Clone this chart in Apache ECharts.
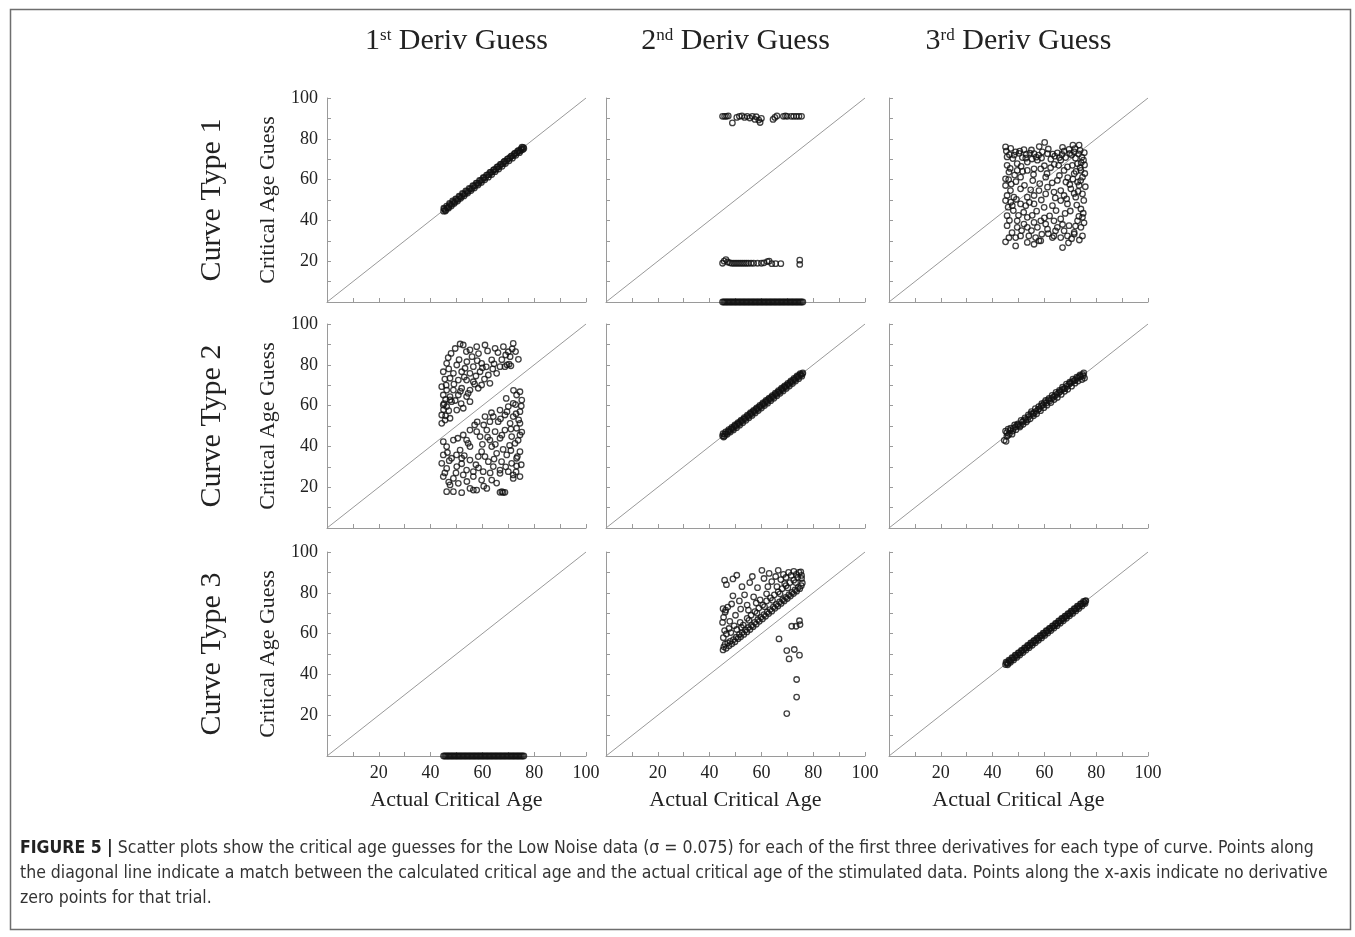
<!DOCTYPE html>
<html>
<head>
<meta charset="utf-8">
<script src="https://cdn.jsdelivr.net/npm/echarts@6/dist/echarts.min.js"></script>
<style>
  html, body { margin: 0; padding: 0; background: #fff; }
  #chart { width: 1355px; height: 937px; }
</style>
</head>
<body>
<div id="chart"></div>
<script>
// titles
var colTitles = [['1', 'st'], ['2', 'nd'], ['3', 'rd']];
var rowTitles = ['Curve Type 1', 'Curve Type 2', 'Curve Type 3'];
var xName = 'Actual Critical Age';
var yName = 'Critical Age Guess';
var caption = [
  ['FIGURE 5 |', ' Scatter plots show the critical age guesses for the Low Noise data (\u03c3 = 0.075) for each of the first three derivatives for each type of curve. Points along'],
  ['', 'the diagonal line indicate a match between the calculated critical age and the actual critical age of the stimulated data. Points along the x-axis indicate no derivative'],
  ['', 'zero points for that trial.']
];

// curve type 1
var c1d1 = [[45.0,44.5],[45.3,45.6],[45.8,45.0],[46.4,46.2],[47.0,46.6],[47.5,47.8],[48.2,47.9],[48.8,49.1],[49.4,49.0],[50.0,50.3],
  [50.7,50.4],[51.3,51.6],[52.0,51.7],[52.6,52.9],[53.3,53.0],[54.0,54.2],[54.6,54.3],[55.3,55.5],[56.0,55.6],[56.6,56.8],
  [57.3,57.1],[58.0,58.3],[58.6,58.2],[59.3,59.5],[60.0,59.8],[60.6,61.0],[61.3,61.0],[62.0,62.3],[62.6,62.4],[63.3,63.6],
  [64.0,63.8],[64.6,64.9],[65.3,65.0],[66.0,66.3],[66.6,66.4],[67.3,67.6],[68.0,67.8],[68.6,69.0],[69.3,69.1],[70.0,70.3],
  [70.6,70.5],[71.3,71.6],[72.0,71.8],[72.6,73.0],[73.3,73.1],[74.0,74.3],[74.5,74.0],[75.0,75.2],[75.6,74.8],[75.8,75.8],
  [45.1,46.0],[45.7,44.6],[46.2,47.0],[46.9,46.0],[47.3,48.3],[48.0,47.1],[48.5,49.6],[49.1,48.3],[49.7,50.6],[50.4,49.5],
  [51.0,51.9],[51.6,50.8],[52.3,53.2],[52.9,52.0],[53.6,54.5],[54.3,53.4],[54.9,55.7],[55.6,54.6],[56.3,57.0],[56.9,55.9],
  [57.6,58.3],[58.3,57.3],[58.9,59.6],[59.6,58.6],[60.3,60.9],[60.9,59.9],[61.6,62.2],[62.3,61.2],[62.9,63.5],[63.6,62.5],
  [64.3,64.8],[64.9,63.9],[65.6,66.1],[66.3,65.2],[66.9,67.4],[67.6,66.5],[68.3,68.7],[68.9,67.9],[69.6,70.0],[70.3,69.2],
  [70.9,71.3],[71.6,70.5],[72.3,72.6],[72.9,71.9],[73.6,73.9],[74.3,73.2],[75.0,74.4],[75.3,75.9],[76.0,75.3]];

var c1d2 = [[45.0,91.0],[45.8,91.0],[46.5,91.0],[47.2,91.2],[48.8,87.8],[50.5,90.5],[51.5,91.0],[52.5,91.2],[53.5,90.5],[54.5,91.0],
  [55.5,90.2],[56.5,91.0],[57.5,89.5],[58.0,90.8],[59.0,89.2],[59.5,88.0],[60.0,90.0],[64.5,89.5],[65.2,90.5],[66.0,91.2],
  [68.5,91.0],[69.3,91.2],[70.0,91.0],[71.5,91.0],[72.5,91.0],[73.5,91.0],[74.5,91.0],[75.5,91.0],
  [45.0,19.0],[45.6,20.0],[46.3,20.8],[47.0,19.6],[47.8,19.2],[48.6,19.0],[49.4,19.0],[50.2,19.0],[51.0,19.0],[51.8,19.0],
  [52.6,19.0],[53.4,19.0],[54.2,19.0],[55.0,19.0],[56.0,19.0],[57.0,19.0],[58.5,19.0],[60.0,19.0],[61.0,19.2],[62.3,19.8],
  [63.0,20.0],[64.0,18.8],[65.5,18.8],[67.5,18.8],[74.8,20.5],[74.8,18.4],
  [45,0],[45.5,0],[46,0],[46.5,0],[47,0],[47.5,0],[48,0],[48.5,0],[49,0],[49.5,0],[50,0],[50.5,0],[51,0],[51.5,0],
  [52,0],[52.5,0],[53,0],[53.5,0],[54,0],[54.5,0],[55,0],[55.5,0],[56,0],[56.5,0],[57,0],[57.5,0],[58,0],[58.5,0],
  [59,0],[59.5,0],[60,0],[60.5,0],[61,0],[61.5,0],[62,0],[62.5,0],[63,0],[63.5,0],[64,0],[64.5,0],[65,0],[65.5,0],
  [66,0],[66.5,0],[67,0],[67.5,0],[68,0],[68.5,0],[69,0],[69.5,0],[70,0],[70.5,0],[71,0],[71.5,0],[72,0],[72.5,0],
  [73,0],[73.5,0],[74,0],[74.5,0],[75,0],[75.5,0],[76,0]];

var c1d3 = [[45.0,76.0],[60.1,78.2],[71.0,76.9],[73.4,76.9],[67.6,73.9],[52.1,74.7],[48.9,73.6],[45.6,71.1],[56.0,72.7],[59.2,73.6],
  [61.2,72.7],[65.0,73.1],[71.5,73.6],[75.1,69.5],[72.8,67.8],[45.6,67.0],[49.5,67.8],[53.4,68.6],[57.3,69.5],[66.3,69.5],
  [68.9,66.2],[74.1,64.5],[46.3,63.7],[49.5,64.5],[53.4,64.5],[56.0,65.3],[58.6,65.3],[62.4,65.8],[67.6,64.5],[71.5,62.9],
  [74.7,61.2],[45.0,60.4],[50.8,61.2],[60.5,61.2],[65.0,59.6],[68.3,58.8],[73.4,57.1],[45.0,57.1],[46.9,54.6],[50.8,55.5],
  [54.7,55.0],[57.9,54.6],[61.2,56.3],[66.3,54.6],[70.2,55.5],[45.6,52.2],[48.2,51.4],[53.4,51.4],[56.0,52.2],[60.5,53.0],
  [63.7,53.9],[67.6,52.2],[72.1,51.4],[74.7,53.0],[45.0,49.7],[47.6,47.2],[50.8,48.1],[52.8,47.2],[56.0,48.1],[59.9,46.4],
  [63.1,47.2],[66.3,49.7],[68.9,48.1],[74.1,45.6],[45.6,42.3],[49.5,39.8],[52.1,38.2],[53.4,41.5],[56.0,39.0],[58.6,39.8],
  [60.5,38.2],[63.7,39.8],[66.3,40.7],[69.5,37.4],[72.8,39.8],[74.7,41.5],[45.6,37.4],[49.5,36.6],[53.4,36.6],[57.3,36.6],
  [61.2,35.7],[65.0,36.6],[67.6,34.9],[71.5,34.1],[74.1,36.6],[48.9,31.6],[50.8,32.4],[54.0,32.4],[56.6,31.6],[58.6,30.0],
  [63.1,31.6],[66.3,31.6],[68.9,32.4],[71.5,33.3],[74.7,32.4],[45.0,29.5],[48.9,27.5],[53.4,29.2],[56.0,28.3],[57.9,30.0],
  [67.0,26.7],[63.7,32.4],
  [46.5,72.2],[47.8,70.3],[50.2,72.9],[51.5,70.8],[53.0,72.3],[54.4,73.0],[55.2,70.1],[57.8,72.0],[58.9,70.6],[62.5,70.0],
  [64.0,71.5],[66.8,72.3],[68.2,70.8],[69.5,74.8],[70.5,72.0],[72.0,70.5],[73.2,72.6],[74.5,71.0],[75.5,67.2],[73.8,65.8],
  [72.2,64.0],[75.6,63.0],[74.0,59.5],[71.0,60.2],[69.8,57.6],[73.0,54.2],[75.2,49.8],[72.5,47.5],[70.0,44.6],[75.0,43.5],
  [73.3,42.0],[68.0,43.4],[64.5,44.8],[62.0,42.2],[57.0,44.5],[52.0,44.0],[48.0,44.8],[46.0,46.5],[47.2,57.8],[49.0,59.0],
  [52.3,57.2],[55.5,59.5],[58.2,58.0],[63.0,58.4],[65.8,62.0],[60.0,66.8],[63.8,67.5],[46.8,65.5],[48.5,62.2],[51.6,64.0],
  [47.0,49.0],[50.0,42.5],[61.5,33.5],[64.3,34.9],[70.5,31.0],[73.5,30.4],[59.0,33.2],[55.0,35.0],[47.5,34.0],[46.3,31.5],
  [45.3,74.0],[47.0,75.3],[48.3,72.0],[50.5,74.0],[52.8,70.5],[55.0,74.5],[56.8,71.0],[58.0,76.2],[61.5,75.0],[63.2,72.5],
  [65.8,70.8],[67.0,75.8],[69.8,72.8],[71.8,75.2],[73.8,74.3],[75.4,73.2],[74.2,68.3],[70.8,67.0],[65.5,67.0],[61.0,63.0],
  [55.8,62.5],[51.0,66.5],[46.2,60.0],[69.0,61.0],[72.8,58.8],[75.8,56.5],[71.5,53.2],[68.6,50.6],[64.2,51.0],[58.8,50.0],
  [54.2,48.8],[49.2,50.3],[46.5,40.0],[51.2,35.0],[55.3,42.5],[60.0,41.2],[67.0,38.0],[72.0,37.2],[75.3,38.8],[69.3,29.0]];

// curve type 2
var c2d1 = [[47.9,85.6],[51.4,90.2],[52.6,89.7],[55.2,87.3],[57.8,88.9],[61.0,89.7],[64.9,88.1],[68.1,88.9],[70.0,86.4],[71.9,90.5],
  [70.7,84.0],[73.9,82.7],[46.2,80.7],[50.1,79.9],[53.3,78.3],[56.5,79.1],[59.7,80.7],[63.6,82.4],[66.8,79.1],[68.7,79.1],
  [48.8,75.8],[52.0,76.6],[55.2,75.8],[59.1,76.6],[62.3,75.0],[65.5,75.8],[44.9,76.6],[47.5,73.4],[50.7,72.5],[53.9,72.5],
  [56.5,71.7],[59.7,70.1],[62.9,70.9],[44.3,69.3],[46.2,67.6],[48.8,67.6],[52.0,68.5],[55.2,67.6],[58.4,68.5],[44.9,65.2],
  [47.5,64.4],[50.7,65.2],[53.9,64.4],[44.9,60.3],[46.2,59.5],[48.1,61.9],[50.1,57.8],[52.6,58.7],[55.2,61.9],[44.3,55.4],
  [45.6,52.9],[47.5,53.8],[44.3,51.3],
  [45.2,61.0],[45.8,63.0],[47.0,57.5],[49.5,62.5],[51.8,61.0],[54.5,66.0],[57.0,70.5],[60.8,73.0],[64.0,78.0],[67.5,82.5],
  [69.5,80.0],[72.8,86.5],[70.3,80.3],[71.0,79.5],
  [46.8,83.5],[49.5,88.0],[53.8,86.5],[56.0,84.0],[58.5,85.5],[62.0,86.8],[66.0,86.0],[69.0,84.8],[71.5,87.8],[47.0,78.0],
  [51.0,82.5],[54.0,81.5],[58.0,82.0],[61.5,79.0],[64.5,80.5],[45.5,73.0],[49.0,70.5],[53.0,74.0],[57.5,74.5],[60.0,78.5],
  [46.0,70.0],[51.5,67.0],[47.5,62.8],[45.0,58.0],[45.8,55.0],
  [74.5,66.8],[73.2,65.2],[75.2,62.7],[71.9,61.1],[70.0,59.5],[74.5,57.0],[66.8,57.8],[68.7,55.4],[71.9,54.6],[64.2,54.6],
  [61.0,54.6],[62.9,52.1],[66.1,52.1],[70.7,51.3],[74.5,51.3],[73.2,48.9],[55.2,48.0],[57.8,47.2],[61.7,48.0],[64.9,47.2],
  [68.7,48.0],[52.6,45.6],[53.9,43.1],[59.1,44.8],[62.9,43.1],[66.8,44.0],[71.3,44.8],[74.5,45.6],[72.6,41.5],[44.9,42.3],
  [48.8,43.1],[46.2,39.9],[51.4,38.2],[55.2,39.9],[59.7,37.4],[63.6,39.9],[65.5,36.6],[69.4,35.8],[74.5,37.4],[73.2,34.2],
  [44.9,35.8],[48.1,34.2],[52.0,34.2],[55.2,33.3],[58.4,35.0],[62.3,32.5],[67.4,32.5],[71.3,31.7],[73.2,30.4],[44.3,31.7],
  [46.2,29.2],[50.1,30.1],[53.9,28.4],[56.5,27.6],[60.3,27.6],[64.2,30.1],[66.8,28.4],[70.0,27.6],[71.9,26.0],[74.5,25.2],
  [44.9,25.2],[48.8,24.3],[52.6,26.0],[56.5,25.2],[59.7,23.5],[63.6,23.5],[66.8,26.8],[47.5,21.1],[50.7,21.9],[55.2,19.4],
  [57.8,18.6],[61.7,19.4],[46.2,17.8],[48.8,17.8],[52.0,17.3],[56.5,18.6],[66.8,17.5],[68.7,17.5],[71.9,24.3],
  [67.5,17.8],[68.0,17.4],[72.8,60.5],[74.0,53.0],[70.5,40.5],[68.0,38.5],[57.5,31.0],[53.0,35.5],[47.2,33.0],[49.8,27.0],
  [62.0,44.5],[65.0,41.0],[58.0,52.0],[60.5,50.5],[69.2,63.5],[73.5,35.0],
  [72.0,67.5],[75.0,59.8],[73.0,56.0],[69.5,57.0],[67.0,53.5],[63.5,56.5],[71.0,48.5],[75.2,47.0],[57.0,50.5],[50.5,44.0],
  [54.5,41.5],[60.0,41.0],[67.5,45.5],[73.8,43.0],[46.5,37.0],[50.0,35.8],[61.0,35.0],[64.5,33.8],[71.0,38.0],[75.0,31.0],
  [45.5,27.0],[52.0,31.5],[58.5,29.5],[63.0,27.0],[69.0,30.0],[47.0,22.5],[54.0,22.8],[60.5,20.5],[65.5,22.0],[73.0,27.5]];

var c2d2 = [[45.0,45.2],[45.4,44.6],[45.9,46.0],[46.5,46.3],[47.1,47.3],[47.7,47.5],[48.3,48.6],[48.9,48.7],[49.5,49.8],[50.1,49.9],
  [50.7,51.0],[51.3,51.1],[51.9,52.2],[52.5,52.3],[53.1,53.4],[53.7,53.5],[54.3,54.6],[54.9,54.7],[55.5,55.8],[56.1,55.9],
  [56.7,57.0],[57.3,57.1],[57.9,58.2],[58.5,58.3],[59.1,59.4],[59.7,59.5],[60.3,60.6],[60.9,60.7],[61.5,61.8],[62.1,61.9],
  [62.7,63.0],[63.3,63.1],[63.9,64.2],[64.5,64.3],[65.1,65.4],[65.7,65.5],[66.3,66.6],[66.9,66.7],[67.5,67.8],[68.1,67.9],
  [68.7,69.0],[69.3,69.1],[69.9,70.2],[70.5,70.3],[71.1,71.4],[71.7,71.5],[72.3,72.6],[72.9,72.7],[73.5,73.8],[74.1,73.9],
  [74.7,75.0],[75.3,75.1],[75.8,75.6],
  [45.2,46.2],[45.7,45.0],[46.2,47.1],[46.8,45.9],[47.4,48.2],[48.0,47.0],[48.6,49.3],[49.2,48.1],[49.8,50.5],[50.4,49.2],
  [51.0,51.7],[51.6,50.4],[52.2,52.9],[52.8,51.6],[53.4,54.1],[54.0,52.8],[54.6,55.3],[55.2,54.0],[55.8,56.5],[56.4,55.2],
  [57.0,57.7],[57.6,56.4],[58.2,58.9],[58.8,57.6],[59.4,60.1],[60.0,58.8],[60.6,61.3],[61.2,60.0],[61.8,62.5],[62.4,61.2],
  [63.0,63.7],[63.6,62.4],[64.2,64.9],[64.8,63.6],[65.4,66.1],[66.0,64.8],[66.6,67.3],[67.2,66.0],[67.8,68.5],[68.4,67.2],
  [69.0,69.7],[69.6,68.4],[70.2,70.9],[70.8,69.6],[71.4,72.1],[72.0,70.8],[72.6,73.3],[73.2,72.0],[73.8,74.5],[74.4,73.2],
  [75.0,75.7],[75.6,74.4],[76.0,76.0]];

var c2d3 = [[44.5,43.0],[45.0,47.5],[45.5,45.0],[46.0,48.5],[46.5,46.2],[47.0,49.0],[47.8,47.5],[48.5,50.5],[49.0,48.2],[49.8,51.0],
  [50.5,49.5],[51.0,52.8],[51.8,50.8],[52.5,54.0],[53.0,52.0],[53.8,55.5],[54.5,53.5],[55.0,57.0],[55.8,55.0],[56.5,58.5],
  [57.0,56.0],[57.8,59.5],[58.5,57.5],[59.0,61.0],[59.8,59.0],[60.5,62.5],[61.0,60.2],[61.8,63.5],[62.5,61.5],[63.0,65.0],
  [63.8,63.0],[64.5,66.5],[65.0,64.0],[65.8,67.5],[66.5,65.5],[67.0,69.0],[67.8,67.0],[68.5,70.5],[69.0,68.0],[69.8,71.5],
  [70.5,69.5],[71.0,73.0],[71.8,71.0],[72.5,74.0],[73.0,72.0],[73.8,75.0],[74.5,72.8],[75.0,74.5],[75.5,73.5],[75.2,76.0],
  [60.0,61.5],[56.0,56.5],[66.0,66.8],[70.0,71.0],[50.0,50.2],[46.0,45.5],[45.2,42.5],[48.0,48.8],[52.0,52.6],[58.0,58.4],
  [62.0,62.2],[64.0,64.8],[68.0,68.4],[72.0,72.6],[74.0,74.2],[54.0,54.6],
  [45.5,46.8],[46.8,47.8],[47.5,46.0],[48.8,49.5],[49.5,50.5],[50.8,50.2],[51.5,52.0],[52.8,53.2],[53.5,53.0],[54.8,56.0],
  [55.5,55.8],[56.8,57.2],[57.5,58.0],[58.8,59.8],[59.5,60.3],[60.8,61.3],[61.5,62.8],[62.8,63.5],[63.5,64.2],[64.8,65.5],
  [65.5,66.2],[66.8,67.8],[67.5,68.2],[68.8,69.5],[69.5,70.5],[70.8,71.8],[71.5,72.2],[72.8,73.5],[73.5,74.3],[74.8,75.3]];

// curve type 3
var c3d1 = [[45,0],[45.5,0],[46,0],[46.5,0],[47,0],[47.5,0],[48,0],[48.5,0],[49,0],[49.5,0],[50,0],[50.5,0],[51,0],[51.5,0],
  [52,0],[52.5,0],[53,0],[53.5,0],[54,0],[54.5,0],[55,0],[55.5,0],[56,0],[56.5,0],[57,0],[57.5,0],[58,0],[58.5,0],
  [59,0],[59.5,0],[60,0],[60.5,0],[61,0],[61.5,0],[62,0],[62.5,0],[63,0],[63.5,0],[64,0],[64.5,0],[65,0],[65.5,0],
  [66,0],[66.5,0],[67,0],[67.5,0],[68,0],[68.5,0],[69,0],[69.5,0],[70,0],[70.5,0],[71,0],[71.5,0],[72,0],[72.5,0],
  [73,0],[73.5,0],[74,0],[74.5,0],[75,0],[75.5,0],[76,0]];

var c3d2 = [[45.2,52.0],[45.5,53.5],[46.0,54.8],[46.4,52.8],[47.0,55.5],[47.5,54.0],[48.0,56.2],[48.6,55.0],[49.2,57.0],[49.8,56.0],
  [50.3,58.2],[51.0,57.5],[51.5,59.5],[52.0,58.4],[52.6,60.5],[53.2,59.6],[53.8,61.8],[54.4,60.8],[55.0,63.0],[55.6,62.0],
  [56.2,64.0],[56.8,63.4],[57.4,65.5],[58.0,64.6],[58.6,66.8],[59.2,66.0],[59.8,68.0],[60.4,67.2],[61.0,69.3],[61.6,68.5],
  [62.2,70.5],[62.8,69.8],[63.4,71.8],[64.0,71.0],[64.6,73.0],[65.2,72.4],[65.8,74.3],[66.4,73.5],[67.0,75.5],[67.6,74.8],
  [68.2,76.6],[68.8,76.0],[69.4,77.8],[70.0,77.2],[70.6,79.0],[71.2,78.4],[71.8,80.2],[72.4,79.6],[73.0,81.4],[73.6,80.8],
  [74.2,82.5],[74.8,82.0],[75.4,83.5],[75.8,84.8],
  [45.3,58.0],[45.8,61.5],[46.5,59.8],[47.5,62.5],[48.2,60.5],[49.5,63.8],[50.5,62.0],[51.8,65.5],[53.0,64.2],[54.5,67.5],
  [56.0,69.0],[57.5,70.8],[59.0,72.5],[60.5,74.0],[62.0,76.0],[63.5,77.5],[65.0,79.0],[66.5,80.5],[68.0,82.0],[69.5,83.5],
  [71.0,85.0],[72.5,86.2],[74.0,87.5],[75.5,88.5],[73.2,85.0],[70.2,82.4],[67.2,79.5],[64.3,76.3],[61.2,73.2],[58.3,70.0],
  [55.2,66.5],[52.3,63.0],
  [45.0,65.5],[45.4,68.0],[46.0,70.5],[45.2,72.2],[46.2,71.5],[47.0,73.0],[45.8,86.2],[46.5,84.0],[49.0,86.8],[50.5,88.6],
  [51.5,76.0],[48.5,74.5],[50.0,69.0],[52.0,72.0],[53.5,79.0],[54.5,74.0],[55.5,85.0],[56.5,88.0],[57.0,78.0],[58.5,82.5],
  [59.5,76.5],[60.2,91.0],[61.0,87.0],[62.5,83.0],[63.0,89.5],[64.0,85.5],[65.5,88.0],[66.5,91.0],[67.5,86.5],[68.5,89.0],
  [69.5,87.5],[70.5,90.0],[71.5,88.5],[72.5,90.5],[73.5,89.0],[74.5,90.0],[75.5,87.0],[75.2,90.3],[69.0,84.5],[66.0,83.0],
  [62.0,79.5],[58.0,75.0],[55.0,71.5],[47.8,66.0],[49.0,78.5],[52.5,83.0],
  [66.8,57.4],[69.8,51.7],[72.7,52.2],[70.7,47.6],[74.7,49.4],[73.6,37.5],[73.6,28.9],[69.8,20.8],[71.7,63.6],[73.4,63.6],
  [74.7,66.3],[74.9,64.4]];

var c3d3 = [[45.0,44.8],[45.5,45.6],[46.0,45.4],[46.6,46.7],[47.2,46.9],[47.8,48.0],[48.4,48.2],[49.0,49.3],[49.6,49.4],[50.2,50.5],
  [50.8,50.6],[51.4,51.7],[52.0,51.9],[52.6,52.9],[53.2,53.1],[53.8,54.1],[54.4,54.3],[55.0,55.3],[55.6,55.5],[56.2,56.5],
  [56.8,56.7],[57.4,57.7],[58.0,57.9],[58.6,58.9],[59.2,59.1],[59.8,60.1],[60.4,60.3],[61.0,61.3],[61.6,61.5],[62.2,62.5],
  [62.8,62.7],[63.4,63.7],[64.0,63.9],[64.6,64.9],[65.2,65.1],[65.8,66.1],[66.4,66.3],[67.0,67.3],[67.6,67.5],[68.2,68.5],
  [68.8,68.7],[69.4,69.7],[70.0,69.9],[70.6,70.9],[71.2,71.1],[71.8,72.1],[72.4,72.3],[73.0,73.3],[73.6,73.5],[74.2,74.5],
  [74.8,74.7],[75.4,75.3],[75.8,75.9],
  [45.2,46.0],[45.8,44.7],[46.3,47.0],[46.9,45.9],[47.5,48.2],[48.1,47.1],[48.7,49.4],[49.3,48.3],[49.9,50.6],[50.5,49.5],
  [51.1,51.8],[51.7,50.7],[52.3,53.0],[52.9,51.9],[53.5,54.2],[54.1,53.1],[54.7,55.4],[55.3,54.3],[55.9,56.6],[56.5,55.5],
  [57.1,57.8],[57.7,56.7],[58.3,59.0],[58.9,57.9],[59.5,60.2],[60.1,59.1],[60.7,61.4],[61.3,60.3],[61.9,62.6],[62.5,61.5],
  [63.1,63.8],[63.7,62.7],[64.3,65.0],[64.9,63.9],[65.5,66.2],[66.1,65.1],[66.7,67.4],[67.3,66.3],[67.9,68.6],[68.5,67.5],
  [69.1,69.8],[69.7,68.7],[70.3,71.0],[70.9,69.9],[71.5,72.2],[72.1,71.1],[72.7,73.4],[73.3,72.3],[73.9,74.6],[74.5,73.5],
  [75.1,75.8],[75.7,74.7],[76.0,76.2]];

var panels = [[c1d1, c1d2, c1d3], [c2d1, c2d2, c2d3], [c3d1, c3d2, c3d3]];
var diagonal = [[0, 0], [100, 100]];

var colLeft = [327, 606, 889];
var rowTop = [98, 324, 552];
var W = 259, H = 204;
var serif = '"Liberation Serif", "Times New Roman", serif';
var axisGray = '#9a9a9a';

var grids = [], xAxes = [], yAxes = [], series = [];
var k = 0;
for (var r = 0; r < 3; r++) {
  for (var c = 0; c < 3; c++) {
    grids.push({ left: colLeft[c], top: rowTop[r], width: W, height: H });
    xAxes.push({
      gridIndex: k, type: 'value', min: 0, max: 100, interval: 20,
      axisLine: { show: true, lineStyle: { color: axisGray, width: 1 } },
      axisTick: { show: true, inside: true, length: 4, lineStyle: { color: axisGray } },
      minorTick: { show: true, splitNumber: 2, length: 4, lineStyle: { color: axisGray } },
      splitLine: { show: false },
      axisLabel: {
        show: r === 2, margin: 8, fontFamily: serif, fontSize: 18, color: '#222',
        formatter: function (v) { return v === 0 ? '' : v; }
      },
      name: r === 2 ? xName : '', nameLocation: 'middle', nameGap: 33,
      nameTextStyle: { fontFamily: serif, fontSize: 22, color: '#222' }
    });
    yAxes.push({
      gridIndex: k, type: 'value', min: 0, max: 100, interval: 20,
      axisLine: { show: true, lineStyle: { color: axisGray, width: 1 } },
      axisTick: { show: true, inside: true, length: 4, lineStyle: { color: axisGray } },
      minorTick: { show: true, splitNumber: 2, length: 4, lineStyle: { color: axisGray } },
      splitLine: { show: false },
      axisLabel: {
        show: c === 0, margin: 9, fontFamily: serif, fontSize: 18, color: '#222',
        formatter: function (v) { return v === 0 ? '' : v; }
      },
      name: c === 0 ? yName : '', nameLocation: 'middle', nameGap: 48, nameRotate: 90,
      nameTextStyle: { fontFamily: serif, fontSize: 22, color: '#222' }
    });
    series.push({
      type: 'line', xAxisIndex: k, yAxisIndex: k, data: diagonal,
      showSymbol: false, silent: true, z: 1,
      lineStyle: { color: '#999999', width: 1 }
    });
    series.push({
      type: 'scatter', xAxisIndex: k, yAxisIndex: k, data: panels[r][c],
      symbol: 'circle', symbolSize: 5.5, clip: false, z: 2,
      itemStyle: { color: 'rgba(0,0,0,0)', borderColor: '#111', borderWidth: 1.3 }
    });
    k++;
  }
}

var graphics = [];
// frame round the figure
graphics.push({
  type: 'rect', left: 8, top: 7, silent: true,
  shape: { width: 1340, height: 920 },
  style: { fill: 'none', stroke: '#6e6e6e', lineWidth: 1.5 }
});
for (var i = 0; i < 3; i++) {
  graphics.push({
    type: 'text', x: colLeft[i] + W / 2, y: 41, silent: true,
    style: {
      text: '{n|' + colTitles[i][0] + '}{s|' + colTitles[i][1] + '}{n| Deriv Guess}',
      align: 'center', verticalAlign: 'middle',
      rich: {
        n: { fontFamily: serif, fontSize: 30, lineHeight: 34, fill: '#222' },
        s: { fontFamily: serif, fontSize: 17, lineHeight: 34, verticalAlign: 'top', fill: '#222', padding: [3, 0, 0, 0] }
      }
    }
  });
  graphics.push({
    type: 'text', x: 212, y: rowTop[i] + H / 2, rotation: Math.PI / 2, silent: true,
    style: {
      text: rowTitles[i], align: 'center', verticalAlign: 'middle',
      font: '30px ' + serif, fill: '#222'
    }
  });
}
var capFont = '"Liberation Sans Narrow", "DejaVu Sans Condensed", "Liberation Sans", sans-serif';
var capText = caption.map(function (line) {
  return (line[0] ? '{b|' + line[0] + '}' : '') + '{r|' + line[1] + '}';
}).join('\n');
graphics.push({
  type: 'text', x: 20, y: 836, silent: true,
  style: {
    text: capText, align: 'left', verticalAlign: 'top',
    rich: {
      b: { fontFamily: capFont, fontSize: 17.5, fontWeight: 'bold', lineHeight: 25, fill: '#222' },
      r: { fontFamily: capFont, fontSize: 17.5, lineHeight: 25, fill: '#333' }
    }
  }
});

var myChart = echarts.init(document.getElementById('chart'), null, { renderer: 'canvas' });
myChart.setOption({
  backgroundColor: '#ffffff',
  animation: false,
  grid: grids,
  xAxis: xAxes,
  yAxis: yAxes,
  series: series,
  graphic: graphics
});
</script>
</body>
</html>
